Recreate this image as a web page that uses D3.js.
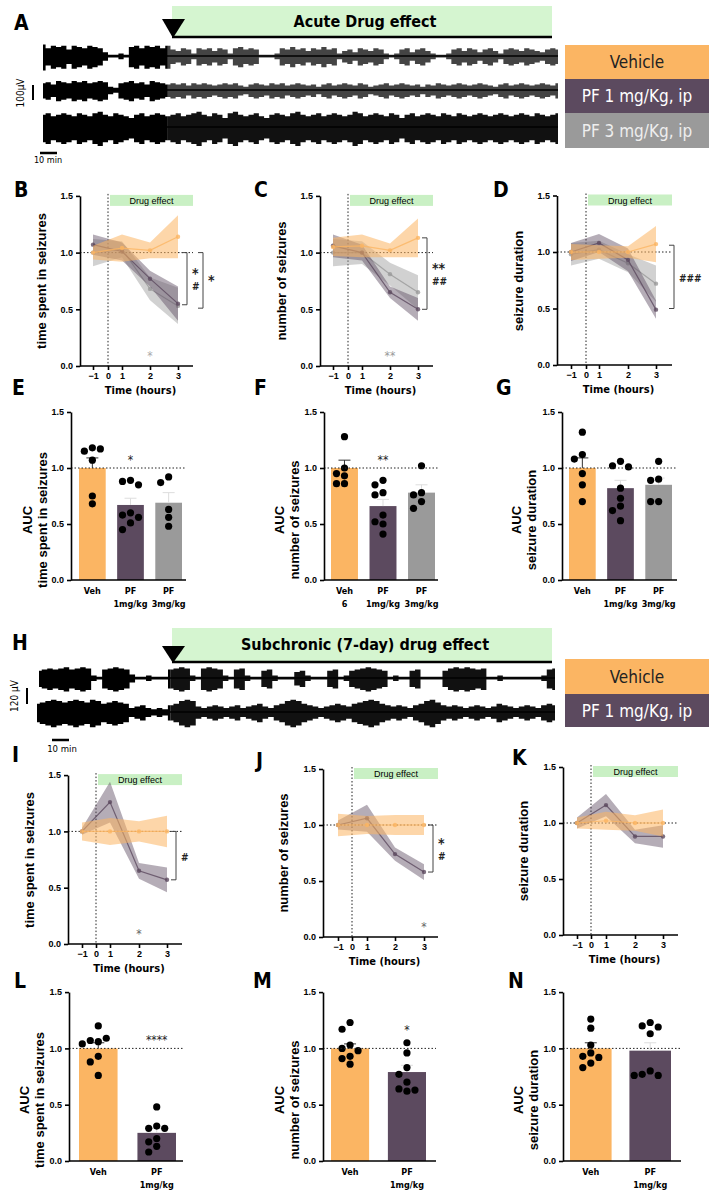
<!DOCTYPE html>
<html>
<head>
<meta charset="utf-8">
<script src="https://cdn.jsdelivr.net/npm/d3@7"></script>
<style>
  body { margin: 0; background: #fff; }
  svg { display: block; font-family: "Liberation Sans Narrow", "DejaVu Sans Condensed", "Liberation Sans", sans-serif; }
  .tick text { font-weight: bold; font-size: 9px; }
</style>
</head>
<body>
<svg id="fig" width="709" height="1191"></svg>
<script>
  // ---- data ----
  var hours = [-1, 1, 2, 3];
  var xTickVals = [-1, 0, 1, 2, 3];
  var yTickVals = [0, 0.5, 1, 1.5];

  // acute, time spent in seizures (B)
  var B_veh = [1.00, 1.04, 1.02, 1.14], B_vehSem = [0.06, 0.12, 0.07, 0.19];
  var B_pf1 = [1.07, 1.01, 0.77, 0.55], B_pf1Sem = [0.09, 0.08, 0.07, 0.15];
  var B_pf3 = [1.00, 1.03, 0.68, 0.53], B_pf3Sem = [0.12, 0.07, 0.10, 0.16];
  // acute, number of seizures (C)
  var C_veh = [1.05, 1.06, 1.02, 1.13], C_vehSem = [0.08, 0.10, 0.06, 0.17];
  var C_pf1 = [1.06, 1.00, 0.65, 0.50], C_pf1Sem = [0.10, 0.07, 0.05, 0.10];
  var C_pf3 = [1.00, 1.00, 0.81, 0.65], C_pf3Sem = [0.12, 0.10, 0.10, 0.15];
  // acute, seizure duration (D)
  var D_veh = [1.00, 1.00, 1.00, 1.07], D_vehSem = [0.07, 0.06, 0.05, 0.16];
  var D_pf1 = [1.00, 1.08, 0.93, 0.49], D_pf1Sem = [0.08, 0.08, 0.10, 0.08];
  var D_pf3 = [0.98, 1.02, 0.90, 0.72], D_pf3Sem = [0.10, 0.08, 0.08, 0.16];
  // subchronic (I, J, K)
  var I_veh = [1.00, 1.00, 1.00, 1.00], I_vehSem = [0.08, 0.12, 0.09, 0.14];
  var I_pf1 = [1.00, 1.26, 0.65, 0.57], I_pf1Sem = [0.03, 0.18, 0.07, 0.11];
  var J_veh = [1.00, 1.00, 1.00, 1.00], J_vehSem = [0.10, 0.08, 0.09, 0.09];
  var J_pf1 = [1.00, 1.06, 0.74, 0.58], J_pf1Sem = [0.04, 0.12, 0.06, 0.07];
  var K_veh = [1.00, 1.02, 1.00, 1.00], K_vehSem = [0.05, 0.08, 0.07, 0.12];
  var K_pf1 = [1.00, 1.16, 0.88, 0.88], K_pf1Sem = [0.05, 0.10, 0.06, 0.10];

  // AUC bars
  var acuteCats = ['Veh', 'PF1', 'PF3'];
  var subCats = ['Veh', 'PF1'];
  var E_mean = [1.00, 0.67, 0.69], E_sem = [0.09, 0.06, 0.09];
  var E_dots = [[1.18, 1.15, 1.17, 1.07, 0.75, 0.68], [0.89, 0.88, 0.85, 0.60, 0.58, 0.56, 0.51, 0.45], [0.92, 0.87, 0.63, 0.56, 0.48]];
  var F_mean = [1.00, 0.66, 0.78], F_sem = [0.07, 0.06, 0.07];
  var F_dots = [[1.28, 1.00, 0.95, 0.93, 0.86, 0.86], [0.89, 0.85, 0.78, 0.76, 0.58, 0.52, 0.50, 0.41], [1.02, 0.78, 0.76, 0.70, 0.64]];
  var G_mean = [1.00, 0.82, 0.85], G_sem = [0.09, 0.07, 0.06];
  var G_dots = [[1.32, 1.12, 1.08, 0.95, 0.85, 0.70], [1.06, 1.02, 1.01, 0.82, 0.73, 0.66, 0.62, 0.53], [1.06, 0.90, 0.89, 0.70, 0.70]];
  var L_mean = [1.00, 0.25], L_sem = [0.05, 0.04];
  var L_dots = [[1.20, 1.06, 1.07, 1.09, 1.04, 0.93, 0.88, 0.76], [0.48, 0.31, 0.29, 0.29, 0.20, 0.17, 0.13, 0.08]];
  var M_mean = [1.00, 0.79], M_sem = [0.04, 0.06];
  var M_dots = [[1.23, 1.17, 1.03, 1.00, 0.98, 0.93, 0.91, 0.86], [1.05, 0.96, 0.83, 0.77, 0.70, 0.64, 0.62, 0.63]];
  var N_mean = [1.00, 0.98], N_sem = [0.05, 0.07];
  var N_dots = [[1.26, 1.18, 1.03, 0.96, 0.93, 0.92, 0.87, 0.83], [1.23, 1.20, 1.19, 1.13, 0.80, 0.77, 0.76, 0.76]];

  // EEG trace envelopes (amplitude, 0-10), first 25 values = before injection
  var traceA1 = [9,6,8,7,8,5,8,7,6,8,7,6,3,1,1,2,1,7,8,6,8,7,8,6,8, 5,4,6,5,2,6,5,6,4,6,5,2,6,7,5,6,5,1,1,1,2,6,5,7,5,6,4,6,5,7,5,6,2,4,5,3,6,5,4,6,5,2,1,2,5,6,3,5,6,4,2,1,1,2,5,6,4,6,5,3,5,6,4,2,5,6,5,4,6,5,4,3,5,6,5];
  var traceA2 = [6,7,5,8,7,6,8,7,8,6,7,8,7,3,2,6,7,8,6,7,5,8,7,6,5, 6,5,6,4,6,5,6,5,4,5,6,5,6,4,3,5,6,5,4,6,5,6,4,5,6,5,4,5,3,5,6,4,5,6,5,4,6,5,3,4,5,6,4,5,6,5,4,5,3,5,4,6,5,4,5,6,5,4,5,6,5,4,3,5,6,4,5,6,5,4,5,6,5,4,6];
  var traceA3 = [8,9,7,8,9,8,7,9,8,7,9,10,8,7,9,8,7,6,8,9,7,8,9,8,7, 8,9,7,8,9,10,8,7,9,8,6,9,10,8,7,8,9,7,6,8,9,8,7,9,10,8,7,8,9,7,8,9,8,7,8,10,9,7,8,9,8,7,9,8,6,8,9,7,8,9,8,7,9,8,7,9,8,7,8,9,8,7,8,9,8,7,8,9,8,7,9,8,7,8,9];
  var traceH1 = [6,7,8,7,8,9,7,8,9,8,2,1,7,8,9,8,7,3,1,1,2,1,1,1, 7,8,9,8,2,1,8,9,8,7,2,1,7,8,2,1,1,6,7,2,1,1,1,5,6,2,1,1,1,6,7,1,2,6,7,8,9,8,7,6,1,2,1,1,6,7,1,1,1,1,6,8,9,8,9,8,7,8,1,1,2,1,1,1,1,1,1,1,2,7,8];
  var traceH2 = [6,7,8,9,8,7,8,9,8,7,9,8,6,7,8,7,6,3,4,5,3,2,3,2, 5,6,8,9,8,4,3,4,5,4,3,4,5,3,4,5,6,4,3,5,6,8,9,8,6,5,4,3,4,5,6,5,4,6,7,8,9,8,6,5,4,5,4,3,5,6,8,9,7,5,4,5,4,3,4,5,4,3,4,6,5,4,3,4,5,4,3,5,6,5];

  var cVeh = '#fbb563', cPf1 = '#5c4a5f', cPf3 = '#9a9a9a';

  var svg = d3.select('#fig');

  function letter(t, x, y) {
    svg.append('text').attr('x', x).attr('y', y).attr('font-size', 21).attr('font-weight', 'bold').text(t);
  }

  function yTitle(lines, x, y) {
    var t = svg.append('text').attr('transform', 'translate(' + x + ',' + y + ') rotate(-90)')
      .attr('text-anchor', 'middle').attr('font-family', 'Liberation Sans, Arial, sans-serif')
      .attr('font-weight', 'bold').attr('font-size', 13);
    lines.forEach(function(l, i) {
      t.append('tspan').attr('x', 0).attr('dy', i ? 15 : 0).text(l);
    });
  }

  function yAxis(ax, y) {
    svg.append('g').attr('transform', 'translate(' + ax + ',0)')
      .call(d3.axisLeft(y).tickValues(yTickVals).tickFormat(d3.format('.1f')).tickSize(4).tickSizeOuter(0))
      .call(function(g) { g.selectAll('path,line').attr('stroke-width', 1.6); });
  }

  function linePanel(o) {
    var y = d3.scaleLinear().domain([0, 1.5]).range([o.y0, o.y0 - 3 * o.half]);
    var x = d3.scaleLinear().domain(xTickVals).range(o.off.map(function(d) { return o.ax + d; }));
    var right = o.ax + o.end;

    svg.append('rect').attr('x', x(0) + 2).attr('y', y(1.5) - 1).attr('width', right - x(0) - 2).attr('height', 11).attr('fill', '#c9f0c4');
    svg.append('text').attr('x', (x(0) + right) / 2 + 1).attr('y', y(1.5) + 8).attr('text-anchor', 'middle')
      .attr('font-size', 9).attr('font-family', 'Liberation Sans, Arial, sans-serif').text('Drug effect');

    svg.append('line').attr('x1', o.ax).attr('x2', right).attr('y1', y(1)).attr('y2', y(1))
      .attr('stroke', '#222').attr('stroke-dasharray', '1.5,2').attr('stroke-width', 1);
    svg.append('line').attr('x1', x(0)).attr('x2', x(0)).attr('y1', y(1.5) - 2).attr('y2', o.y0)
      .attr('stroke', '#222').attr('stroke-dasharray', '1.5,2').attr('stroke-width', 1);

    o.series.forEach(function(s) {
      var pts = hours.map(function(h, i) { return { h: h, v: s.v[i], e: s.e[i] }; });
      svg.append('path').datum(pts).attr('fill', s.c).attr('fill-opacity', s.op || 0.45)
        .attr('d', d3.area().x(function(d) { return x(d.h); }).y0(function(d) { return y(d.v - d.e); }).y1(function(d) { return y(d.v + d.e); }));
      svg.append('path').datum(pts).attr('fill', 'none').attr('stroke', s.c).attr('stroke-width', 1.2).attr('stroke-opacity', 0.8)
        .attr('d', d3.line().x(function(d) { return x(d.h); }).y(function(d) { return y(d.v); }));
      svg.selectAll(null).data(pts).enter().append('circle')
        .attr('cx', function(d) { return x(d.h); }).attr('cy', function(d) { return y(d.v); })
        .attr('r', 2.2).attr('fill', s.c).attr('fill-opacity', 0.8);
    });

    yAxis(o.ax, y);
    var xa = svg.append('g').attr('transform', 'translate(0,' + o.y0 + ')')
      .call(d3.axisBottom(x).tickValues(xTickVals).tickFormat(d3.format('d')).tickSize(4).tickSizeOuter(0));
    xa.select('.domain').remove();
    xa.selectAll('line').attr('stroke-width', 1.6);
    svg.append('line').attr('x1', o.ax).attr('x2', right).attr('y1', o.y0).attr('y2', o.y0).attr('stroke', '#000').attr('stroke-width', 1.6);
    svg.append('text').attr('x', (o.ax + right) / 2 + 4).attr('y', o.y0 + 28).attr('text-anchor', 'middle')
      .attr('font-weight', 'bold').attr('font-size', 11).text('Time (hours)');

    (o.brackets || []).forEach(function(b) {
      var bx = right + b.dx;
      svg.append('path').attr('fill', 'none').attr('stroke', '#444').attr('stroke-width', 1)
        .attr('d', 'M' + (bx - 5) + ',' + y(b.top) + 'H' + bx + 'V' + y(b.bot) + 'H' + (bx - 5));
      b.labels.forEach(function(l, i) {
        svg.append('text').attr('x', bx + 5).attr('y', y((b.top + b.bot) / 2) + (i - (b.labels.length - 1) / 2) * 12 + 5)
          .attr('font-size', l.indexOf('#') >= 0 ? 10 : 14).attr('font-weight', 'bold').attr('fill', '#222').text(l);
      });
    });
    (o.stars || []).forEach(function(s) {
      svg.append('text').attr('x', x(s.h)).attr('y', y(0.1) + 5).attr('text-anchor', 'middle')
        .attr('font-size', 12).attr('fill', s.c).text(s.t);
    });
  }

  function barPanel(o) {
    var y = d3.scaleLinear().domain([0, 1.5]).range([o.y0, o.y0 - 3 * o.half]);
    var x = d3.scaleBand().domain(o.cats).range([o.ax + o.pad[0], o.ax + o.end - o.pad[1]]).paddingInner(o.pi).paddingOuter(0);
    var right = o.ax + o.end;

    o.cats.forEach(function(c, i) {
      var bx = x(c), bw = x.bandwidth();
      svg.append('rect').attr('x', bx).attr('y', y(o.mean[i])).attr('width', bw).attr('height', o.y0 - y(o.mean[i])).attr('fill', o.colors[i]);
      var cx = bx + bw / 2, top = y(o.mean[i] + o.sem[i]);
      svg.append('path').attr('fill', 'none').attr('stroke', i ? '#ddd' : '#333').attr('stroke-width', 1)
        .attr('d', 'M' + cx + ',' + y(o.mean[i]) + 'V' + top + 'M' + (cx - 6) + ',' + top + 'H' + (cx + 6));
      // spread dots horizontally when they overlap
      var placed = [];
      o.dots[i].forEach(function(v) {
        var py = y(v), px = cx, tries = [0, -8, 8, -16, 16, -24, 24];
        for (var k = 0; k < tries.length; k++) {
          var tx = cx + tries[k];
          var hit = placed.some(function(p) { return Math.hypot(p[0] - tx, p[1] - py) < 7.5; });
          if (!hit) { px = tx; break; }
        }
        placed.push([px, py]);
        svg.append('circle').attr('cx', px).attr('cy', py).attr('r', 3.6).attr('fill', '#000');
      });
      o.labels[i].forEach(function(l, j) {
        svg.append('text').attr('x', cx).attr('y', o.y0 + 14 + j * 13).attr('text-anchor', 'middle')
          .attr('font-weight', 'bold').attr('font-size', 9).text(l);
      });
    });
    svg.append('line').attr('x1', o.ax).attr('x2', right).attr('y1', y(1)).attr('y2', y(1))
      .attr('stroke', '#222').attr('stroke-dasharray', '1.5,2');
    yAxis(o.ax, y);
    svg.append('line').attr('x1', o.ax).attr('x2', right).attr('y1', o.y0).attr('y2', o.y0).attr('stroke', '#000').attr('stroke-width', 1.6);
    if (o.star) {
      svg.append('text').attr('x', x(o.cats[1]) + x.bandwidth() / 2).attr('y', y(o.star.v) + 5).attr('text-anchor', 'middle')
        .attr('font-size', 12).attr('fill', '#222').text(o.star.t);
    }
  }

  // envelope drawn as a dense filled band, pre-injection part darker
  function trace(vals, x0, x1, cy, scale, postColor) {
    var x = d3.scaleLinear().domain([0, vals.length - 1]).range([x0, x1]);
    var area = d3.area().curve(d3.curveStep)
      .x(function(d) { return x(d.i); })
      .y0(function(d) { return cy + d.v * scale; })
      .y1(function(d) { return cy - d.v * scale * 0.8; });
    var pts = vals.map(function(v, i) { return { i: i, v: v }; });
    svg.append('path').datum(pts.slice(0, 25)).attr('fill', '#000').attr('d', area);
    svg.append('path').datum(pts.slice(24)).attr('fill', postColor).attr('d', area);
    svg.append('line').attr('x1', x0).attr('x2', x1).attr('y1', cy).attr('y2', cy).attr('stroke', '#000').attr('stroke-width', 1.5);
  }

  function drugHeader(label, y0, y1, triY) {
    svg.append('rect').attr('x', 172).attr('y', y0).attr('width', 380).attr('height', y1 - y0).attr('fill', '#d5f5d0');
    svg.append('line').attr('x1', 172).attr('x2', 552).attr('y1', y1).attr('y2', y1).attr('stroke', '#000').attr('stroke-width', 2.5);
    svg.append('path').attr('d', 'M162,' + triY + 'L185,' + triY + 'L173,' + (y1 + 1) + 'Z').attr('fill', '#000');
    svg.append('text').attr('x', 365).attr('y', (y0 + y1) / 2 + 5).attr('text-anchor', 'middle')
      .attr('font-weight', 'bold').attr('font-size', 16).text(label);
  }

  function legendBox(label, y0, y1, fill, tc) {
    svg.append('rect').attr('x', 565).attr('y', y0).attr('width', 144).attr('height', y1 - y0).attr('fill', fill);
    svg.append('text').attr('x', 637).attr('y', (y0 + y1) / 2 + 6).attr('text-anchor', 'middle')
      .attr('font-size', 17).attr('fill', tc).text(label);
  }

  // ---- A: acute traces ----
  letter('A', 14, 30);
  drugHeader('Acute Drug effect', 6, 37, 19);
  trace(traceA1, 43, 558, 56, 1.6, '#444');
  trace(traceA2, 43, 558, 90, 1.4, '#444');
  trace(traceA3, 43, 558, 127, 1.9, '#111');
  legendBox('Vehicle', 45, 79, cVeh, '#222');
  legendBox('PF 1 mg/Kg, ip', 79, 113, cPf1, '#fff');
  legendBox('PF 3 mg/Kg, ip', 113, 148, cPf3, '#eee');
  svg.append('line').attr('x1', 33).attr('x2', 33).attr('y1', 85).attr('y2', 100).attr('stroke', '#000').attr('stroke-width', 2);
  svg.append('text').attr('transform', 'translate(24,93) rotate(-90)').attr('text-anchor', 'middle').attr('font-size', 10).text('100µV');
  svg.append('line').attr('x1', 40).attr('x2', 57).attr('y1', 153).attr('y2', 153).attr('stroke', '#000').attr('stroke-width', 2.5);
  svg.append('text').attr('x', 48).attr('y', 163).attr('text-anchor', 'middle').attr('font-size', 9).text('10 min');

  // ---- B, C, D ----
  var offTop = [13, 28, 42, 70, 98];
  letter('B', 14, 197); letter('C', 254, 197); letter('D', 493, 197);
  linePanel({ ax: 80, y0: 366, half: 56.7, off: offTop, end: 113,
    series: [{ c: cPf3, v: B_pf3, e: B_pf3Sem }, { c: cPf1, v: B_pf1, e: B_pf1Sem }, { c: cVeh, v: B_veh, e: B_vehSem, op: 0.55 }],
    brackets: [{ dx: -6, top: 1.0, bot: 0.54, labels: ['*', '#'] }, { dx: 10, top: 1.0, bot: 0.51, labels: ['*'] }],
    stars: [{ h: 2, t: '*', c: '#aaa' }] });
  yTitle(['time spent in seizures'], 46, 281);
  linePanel({ ax: 320, y0: 366, half: 56.7, off: offTop, end: 113,
    series: [{ c: cPf3, v: C_pf3, e: C_pf3Sem }, { c: cPf1, v: C_pf1, e: C_pf1Sem }, { c: cVeh, v: C_veh, e: C_vehSem, op: 0.55 }],
    brackets: [{ dx: -6, top: 1.13, bot: 0.5, labels: ['**', '##'] }],
    stars: [{ h: 2, t: '**', c: '#999' }] });
  yTitle(['number of seizures'], 286, 281);
  linePanel({ ax: 557, y0: 365, half: 56.5, off: [14, 29, 42, 71, 99], end: 115,
    series: [{ c: cPf3, v: D_pf3, e: D_pf3Sem }, { c: cPf1, v: D_pf1, e: D_pf1Sem }, { c: cVeh, v: D_veh, e: D_vehSem, op: 0.55 }],
    brackets: [{ dx: 2, top: 1.06, bot: 0.5, labels: ['###'] }] });
  yTitle(['seizure duration'], 523, 281);

  // ---- E, F, G ----
  letter('E', 12, 395); letter('F', 254, 395); letter('G', 496, 395);
  var acuteLabels = [['Veh'], ['PF', '1mg/kg'], ['PF', '3mg/kg']];
  barPanel({ ax: 71, y0: 580, half: 56, end: 115, pad: [8, 4], pi: 0.3, cats: acuteCats, colors: [cVeh, cPf1, cPf3],
    mean: E_mean, sem: E_sem, dots: E_dots, labels: acuteLabels, star: { v: 1.08, t: '*' } });
  yTitle(['AUC', 'time spent in seizures'], 32, 520);
  barPanel({ ax: 324, y0: 580, half: 56, end: 114, pad: [7, 3], pi: 0.3, cats: acuteCats, colors: [cVeh, cPf1, cPf3],
    mean: F_mean, sem: F_sem, dots: F_dots, labels: [['Veh', '6'], ['PF', '1mg/kg'], ['PF', '3mg/kg']], star: { v: 1.08, t: '**' } });
  yTitle(['AUC', 'number of seizures'], 284, 520);
  barPanel({ ax: 562, y0: 580, half: 56, end: 115, pad: [7, 5], pi: 0.3, cats: acuteCats, colors: [cVeh, cPf1, cPf3],
    mean: G_mean, sem: G_sem, dots: G_dots, labels: acuteLabels });
  yTitle(['AUC', 'seizure duration'], 521, 520);

  // ---- H: subchronic traces ----
  letter('H', 12, 650);
  drugHeader('Subchronic (7-day) drug effect', 628, 662, 646);
  trace(traceH1, 39, 555, 678, 1.5, '#111');
  trace(traceH2, 37, 555, 712, 1.7, '#111');
  legendBox('Vehicle', 659, 694, cVeh, '#222');
  legendBox('PF 1 mg/Kg, ip', 694, 727, cPf1, '#fff');
  svg.append('line').attr('x1', 27).attr('x2', 27).attr('y1', 688).attr('y2', 704).attr('stroke', '#000').attr('stroke-width', 2);
  svg.append('text').attr('transform', 'translate(18,696) rotate(-90)').attr('text-anchor', 'middle').attr('font-size', 10).text('120 µV');
  svg.append('line').attr('x1', 52).attr('x2', 69).attr('y1', 740).attr('y2', 740).attr('stroke', '#000').attr('stroke-width', 2.5);
  svg.append('text').attr('x', 62).attr('y', 752).attr('text-anchor', 'middle').attr('font-size', 9.5).text('10 min');

  // ---- I, J, K ----
  letter('I', 12, 762); letter('J', 256, 768); letter('K', 512, 765);
  linePanel({ ax: 68, y0: 944, half: 56.3, off: [14, 28, 42, 71, 99], end: 114,
    series: [{ c: cPf1, v: I_pf1, e: I_pf1Sem }, { c: cVeh, v: I_veh, e: I_vehSem, op: 0.55 }],
    brackets: [{ dx: -6, top: 1.0, bot: 0.57, labels: ['#'] }],
    stars: [{ h: 2, t: '*', c: '#666' }] });
  yTitle(['time spent in seizures'], 34, 860);
  linePanel({ ax: 323, y0: 937, half: 56, off: [15, 29, 44, 72, 101], end: 115,
    series: [{ c: cPf1, v: J_pf1, e: J_pf1Sem }, { c: cVeh, v: J_veh, e: J_vehSem, op: 0.55 }],
    brackets: [{ dx: -5, top: 1.0, bot: 0.58, labels: ['*', '#'] }],
    stars: [{ h: 3, t: '*', c: '#666' }] });
  yTitle(['number of seizures'], 288, 853);
  linePanel({ ax: 563, y0: 935, half: 56, off: [14, 28, 43, 72, 100], end: 115,
    series: [{ c: cPf1, v: K_pf1, e: K_pf1Sem }, { c: cVeh, v: K_veh, e: K_vehSem, op: 0.55 }] });
  yTitle(['seizure duration'], 528, 851);

  // ---- L, M, N ----
  letter('L', 14, 988); letter('M', 253, 988); letter('N', 508, 988);
  var subLabels = [['Veh'], ['PF', '1mg/kg']];
  barPanel({ ax: 69, y0: 1161, half: 56.3, end: 114, pad: [10, 7], pi: 0.34, cats: subCats, colors: [cVeh, cPf1],
    mean: L_mean, sem: L_sem, dots: L_dots, labels: subLabels, star: { v: 1.08, t: '****' } });
  yTitle(['AUC', 'time spent in seizures'], 29, 1100);
  barPanel({ ax: 323, y0: 1161, half: 56.3, end: 113, pad: [8, 10], pi: 0.33, cats: subCats, colors: [cVeh, cPf1],
    mean: M_mean, sem: M_sem, dots: M_dots, labels: subLabels, star: { v: 1.17, t: '*' } });
  yTitle(['AUC', 'number of seizures'], 284, 1100);
  barPanel({ ax: 563, y0: 1161, half: 56.3, end: 118, pad: [7, 10], pi: 0.3, cats: subCats, colors: [cVeh, cPf1],
    mean: N_mean, sem: N_sem, dots: N_dots, labels: subLabels });
  yTitle(['AUC', 'seizure duration'], 523, 1100);
</script>
</body>
</html>
